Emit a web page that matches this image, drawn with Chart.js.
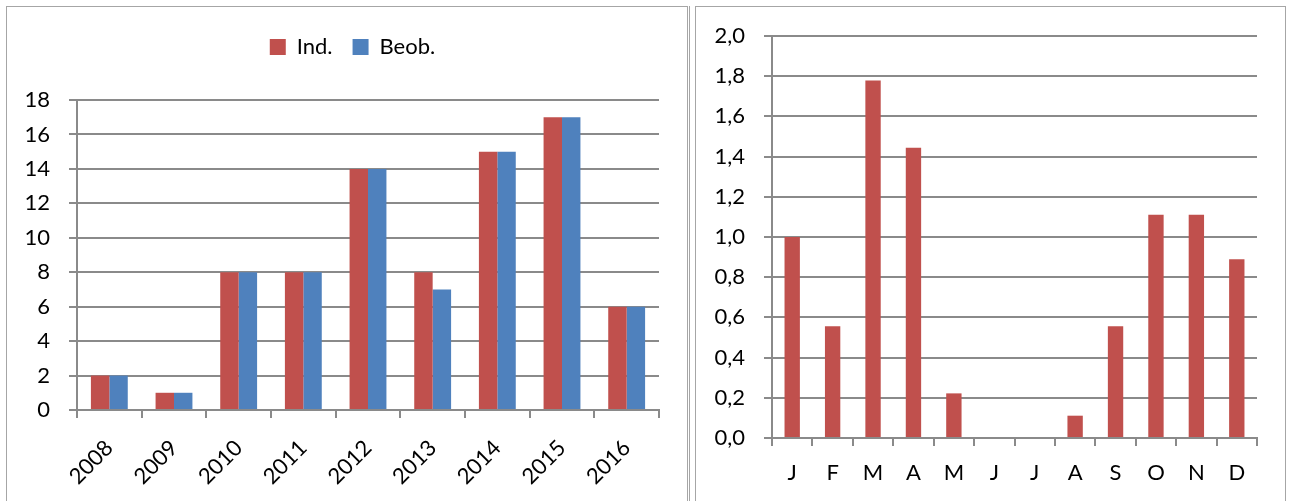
<!DOCTYPE html>
<html>
<head>
<meta charset="utf-8">
<script src="https://cdn.jsdelivr.net/npm/chart.js@4.4.1/dist/chart.umd.min.js"></script>
<style>
  html, body { margin:0; padding:0; background:#fff; width:1292px; height:501px; overflow:hidden; }
  .frame { position:absolute; border:1px solid #a6a6a6; box-sizing:border-box; }
  .line { position:absolute; background:#a6a6a6; }
  .wrap { position:absolute; }
</style>
</head>
<body>
<div class="frame" style="left:6px; top:6px; width:682px; height:510px;"></div>
<div class="line" style="left:689px; top:6px; width:1px; height:500px;"></div>
<div class="frame" style="left:695px; top:6px; width:591px; height:510px;"></div>
<div class="wrap" style="left:8px; top:8px; width:678px; height:493px;"><canvas id="c1"></canvas></div>
<div class="wrap" style="left:697px; top:8px; width:586px; height:493px;"><canvas id="c2"></canvas></div>
<script>
// ---- data ----
const years = ['2008','2009','2010','2011','2012','2013','2014','2015','2016'];
const indValues = [2, 1, 8, 8, 14, 8, 15, 17, 6];
const beobValues = [2, 1, 8, 8, 14, 7, 15, 17, 6];
const leftTickLabels = ['0','2','4','6','8','10','12','14','16','18'];

const months = ['J','F','M','A','M','J','J','A','S','O','N','D'];
const monthValues = [1.0, 0.556, 1.778, 1.444, 0.222, 0, 0, 0.111, 0.556, 1.111, 1.111, 0.889];
const rightTickLabels = ['0,0','0,2','0,4','0,6','0,8','1,0','1,2','1,4','1,6','1,8','2,0'];

// ---- style ----
const RED = '#C0504D', BLUE = '#4F81BD', GRID = '#8a8a8a';
const FONT = { family: 'Lato, "Open Sans", sans-serif', size: 22 };
Chart.defaults.font = FONT;
Chart.defaults.color = '#000';

const legendExtra = 32;
const legendShift = 19;
const legendSpacer = {
  id: 'legendSpacer',
  beforeInit(chart) {
    if (!chart.legend) return;
    const orig = chart.legend.fit;
    chart.legend.fit = function () { orig.call(this); this.height += legendExtra; };
  },
  afterLayout(chart) {
    if (!chart.legend) return;
    chart.legend.left += legendShift;
    chart.legend.right += legendShift;
  }
};

new Chart(document.getElementById('c1'), {
  type: 'bar',
  data: {
    labels: years,
    datasets: [
      { label: 'Ind.', data: indValues, backgroundColor: RED, categoryPercentage: 0.57, barPercentage: 1.0 },
      { label: 'Beob.', data: beobValues, backgroundColor: BLUE, categoryPercentage: 0.57, barPercentage: 1.0 }
    ]
  },
  options: {
    responsive: true, maintainAspectRatio: false, animation: false,
    layout: { padding: { top: 8, right: 27, left: 0, bottom: 0 } },
    plugins: {
      legend: { display: true, position: 'top',
        labels: { boxWidth: 16, boxHeight: 16, padding: 20, font: FONT, color: '#000' } },
      tooltip: { enabled: false }
    },
    scales: {
      x: {
        grid: { display: true, drawOnChartArea: false, drawTicks: true, tickLength: 8, color: GRID, lineWidth: 2, offset: true },
        border: { display: true, color: GRID, width: 2 },
        ticks: { maxRotation: 45, minRotation: 45, padding: 17, font: FONT, color: '#000', autoSkip: false },
        afterFit(s) { s.height = 91; }
      },
      y: {
        min: 0, max: 18,
        ticks: { stepSize: 2, padding: 19, font: FONT, color: '#000',
          callback: (v, i) => leftTickLabels[i] },
        grid: { color: GRID, lineWidth: 2, tickLength: 8, drawTicks: true },
        border: { display: true, color: GRID, width: 2 },
        afterFit(s) { s.width = 69; }
      }
    }
  },
  plugins: [legendSpacer]
});

new Chart(document.getElementById('c2'), {
  type: 'bar',
  data: {
    labels: months,
    datasets: [
      { label: 'Monat', data: monthValues, backgroundColor: RED, categoryPercentage: 1.0, barPercentage: 0.38 }
    ]
  },
  options: {
    responsive: true, maintainAspectRatio: false, animation: false,
    layout: { padding: { top: 28, right: 26, left: 0, bottom: 0 } },
    plugins: { legend: { display: false }, tooltip: { enabled: false } },
    scales: {
      x: {
        grid: { display: true, drawOnChartArea: false, drawTicks: true, tickLength: 8, color: GRID, lineWidth: 2, offset: true },
        border: { display: true, color: GRID, width: 2 },
        ticks: { maxRotation: 0, minRotation: 0, padding: 14, font: FONT, color: '#000', autoSkip: false },
        afterFit(s) { s.height = 63; }
      },
      y: {
        min: 0, max: 2,
        ticks: { stepSize: 0.2, padding: 19, font: FONT, color: '#000',
          callback: (v, i) => rightTickLabels[i] },
        grid: { color: GRID, lineWidth: 2, tickLength: 8, drawTicks: true },
        border: { display: true, color: GRID, width: 2 },
        afterFit(s) { s.width = 75; s.paddingTop = 0; s.paddingBottom = 0; }
      }
    }
  }
});
</script>
</body>
</html>
